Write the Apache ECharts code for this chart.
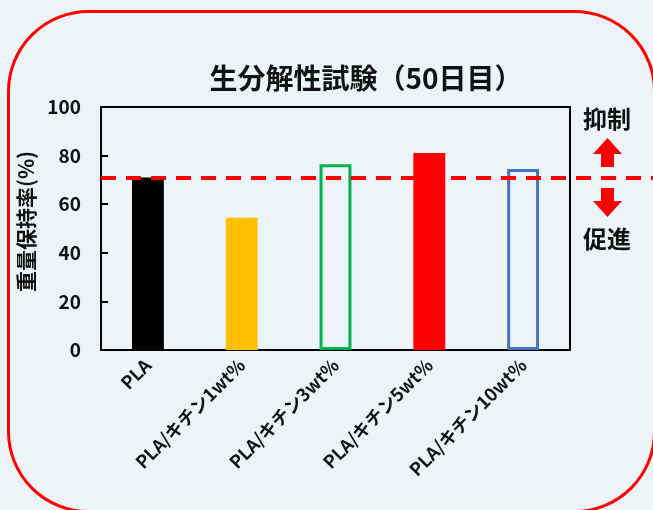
<!DOCTYPE html>
<html>
<head>
<meta charset="utf-8">
<script src="https://cdn.jsdelivr.net/npm/echarts@6/dist/echarts.min.js"></script>
<style>
html,body{margin:0;padding:0;background:#ECF4F7;}
#main{width:653px;height:510px;}
</style>
</head>
<body>
<div id="main"></div>
<script>
var categories = ['PLA', 'PLA/キチン1wt%', 'PLA/キチン3wt%', 'PLA/キチン5wt%', 'PLA/キチン10wt%'];
var retention = [71, 54.4, 76.4, 81.1, 74.5];
var referenceLevel = 71;
var yTicks = [0, 20, 40, 60, 80, 100];

var fills = ['#000000', '#FFC000', 'transparent', '#FF0000', 'transparent'];
var strokes = ['#000000', '#FFC000', '#00B050', '#FF0000', '#4472C4'];
var strokeW = [0, 0, 3, 0, 3];

var FONT = '"Noto Sans CJK JP", "Noto Sans", sans-serif';

var chart = echarts.init(document.getElementById('main'), null, {renderer: 'canvas'});

var barData = retention.map(function (v, i) {
  return {
    value: v,
    itemStyle: { color: fills[i], borderColor: strokes[i], borderWidth: strokeW[i] }
  };
});

var option = {
  backgroundColor: '#ECF4F7',
  animation: false,
  title: {
    text: '生分解性試験（50日目）',
    left: 361,
    top: 59,
    textAlign: 'center',
    textStyle: { fontFamily: FONT, fontSize: 28, fontWeight: 'bold', color: '#111' }
  },
  grid: [
    { left: 101, right: 83, top: 107, bottom: 160, show: true, borderColor: '#000', borderWidth: 2, backgroundColor: 'transparent' },
    { left: 101, right: 0, top: 107, bottom: 160, show: false }
  ],
  xAxis: [
    {
      type: 'category', gridIndex: 0, data: categories,
      axisLine: { lineStyle: { color: '#000', width: 2 } },
      axisTick: { show: false },
      axisLabel: { rotate: 45, margin: 12, interval: 0, fontFamily: FONT, fontSize: 18, fontWeight: 'bold', color: '#111' }
    },
    { type: 'value', gridIndex: 1, min: 0, max: 1, show: false }
  ],
  yAxis: [
    {
      type: 'value', gridIndex: 0, min: yTicks[0], max: yTicks[yTicks.length - 1], interval: yTicks[1] - yTicks[0],
      axisLine: { show: true, lineStyle: { color: '#000', width: 2 } },
      axisTick: { show: true, inside: true, length: 7, lineStyle: { color: '#000', width: 2 } },
      splitLine: { show: false },
      axisLabel: { margin: 20, fontFamily: FONT, fontSize: 19, fontWeight: 'bold', color: '#111' },
      name: '重量保持率(%)',
      nameLocation: 'middle',
      nameRotate: 90,
      nameGap: 60,
      nameTextStyle: { fontFamily: FONT, fontSize: 21, fontWeight: 'bold', color: '#111', padding: [0, 0, 0, 14] }
    },
    { type: 'value', gridIndex: 1, min: 0, max: 100, show: false }
  ],
  series: [
    {
      type: 'bar', xAxisIndex: 0, yAxisIndex: 0,
      data: barData,
      barWidth: '34%',
      z: 2
    },
    {
      type: 'line', xAxisIndex: 1, yAxisIndex: 1, data: [],
      z: 5,
      markLine: {
        silent: true,
        symbol: ['none', 'none'],
        label: { show: false },
        lineStyle: { color: '#FF0000', width: 4, type: [15, 10] },
        data: [{ yAxis: referenceLevel }]
      }
    }
  ],
  graphic: [
    {
      type: 'rect', left: 6, top: 9, z: 100, silent: true,
      shape: { x: 0, y: 0, width: 646, height: 500, r: 80 },
      style: { fill: 'none', stroke: '#FF0000', lineWidth: 3 }
    },
    {
      type: 'text', left: 583, top: 107, z: 100,
      style: { text: '抑制', fontFamily: FONT, fontSize: 24, fontWeight: 'bold', fill: '#111' }
    },
    {
      type: 'text', left: 583, top: 227, z: 100,
      style: { text: '促進', fontFamily: FONT, fontSize: 24, fontWeight: 'bold', fill: '#111' }
    },
    {
      type: 'polygon', z: 100,
      shape: { points: [[607.5, 138], [622, 154], [614, 154], [614, 167], [601, 167], [601, 154], [593, 154]] },
      style: { fill: '#FF0000' }
    },
    {
      type: 'polygon', z: 100,
      shape: { points: [[601, 188], [614, 188], [614, 201], [622, 201], [607.5, 217], [593, 201], [601, 201]] },
      style: { fill: '#FF0000' }
    }
  ]
};
chart.setOption(option);
</script>
</body>
</html>
